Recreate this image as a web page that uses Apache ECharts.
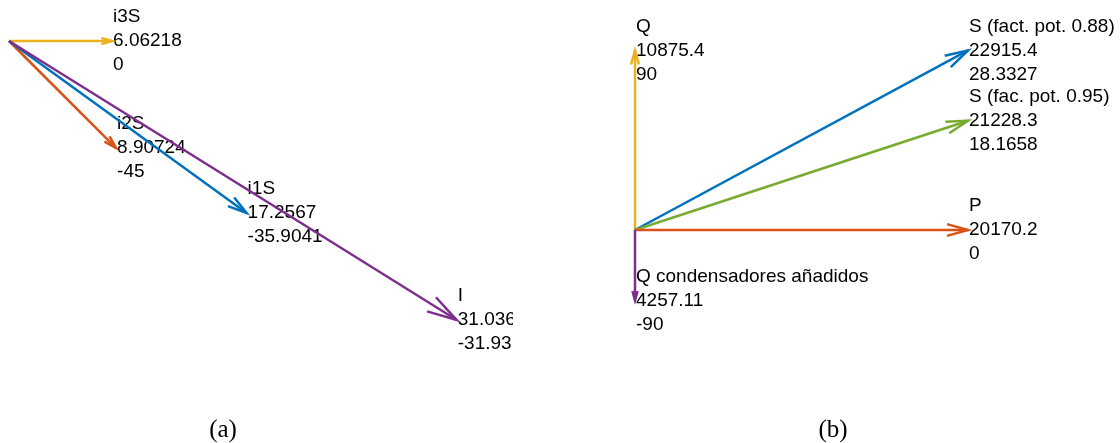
<!DOCTYPE html>
<html>
<head>
<meta charset="utf-8">
<script src="https://cdn.jsdelivr.net/npm/echarts@6/dist/echarts.min.js"></script>
<style>html,body{margin:0;padding:0;background:#fff;}#c{width:1120px;height:443px;}</style>
</head>
<body>
<div id="c"></div>
<script>
// Panel (a) phasors
const namesA = ['i3S', 'i2S', 'i1S', 'I'];
const magsA = [6.06218, 8.90724, 17.2567, 31.036];
const anglesA = [0, -45, -35.9041, -31.93];
// Panel (b) phasors
const namesB = ['Q', 'S (fact. pot. 0.88)', 'S (fac. pot. 0.95)', 'P', 'Q condensadores añadidos'];
const magsB = [10875.4, 22915.4, 21228.3, 20170.2, 4257.11];
const anglesB = [90, 28.3327, 18.1658, 0, -90];
const captions = ['(a)', '(b)'];

const C = {blue:'#0072BD', orange:'#D95319', yellow:'#EDB120', purple:'#7E2F8E', green:'#77AC30'};
const colorsA = [C.yellow, C.orange, C.blue, C.purple];
const colorsB = [C.yellow, C.blue, C.green, C.orange, C.purple];

function makeRender(names, colors) {
  return function (params, api) {
    const i = params.dataIndex;
    const angDeg = api.value(0), mag = api.value(1);
    const a = angDeg * Math.PI / 180;
    const o = api.coord([0, 0]);
    const t = api.coord([mag * Math.cos(a), mag * Math.sin(a)]);
    const dx = t[0] - o[0], dy = t[1] - o[1];
    const L = Math.hypot(dx, dy);
    const ux = dx / L, uy = dy / L;
    const h = 0.045 * L + 6, w = 0.28 * h;
    const bx = t[0] - ux * h, by = t[1] - uy * h;
    const p1 = [bx - uy * w, by + ux * w], p2 = [bx + uy * w, by - ux * w];
    const col = colors[i];
    return {
      type: 'group',
      children: [
        {type: 'text', style: {text: names[i] + '\n' + String(mag) + '\n' + String(angDeg),
          x: t[0] + 1, y: t[1], align: 'left', verticalAlign: 'middle',
          fontFamily: 'Liberation Sans, Arial, sans-serif', fontSize: 19, lineHeight: 24, fill: '#000'}},
        {type: 'line', shape: {x1: o[0], y1: o[1], x2: t[0], y2: t[1]},
          style: {stroke: col, lineWidth: 2.5}},
        {type: 'polyline', shape: {points: [p1, t, p2]},
          style: {stroke: col, lineWidth: 2.5, fill: null, lineJoin: 'miter'}}
      ]
    };
  };
}

const sA = 17.0, oAx = 9, oAy = 41, wA = 513, hA = 400;
const sB = 0.01651, oBx = 75, oBy = 230, wB = 560, hB = 400;

const chart = echarts.init(document.getElementById('c'), null, {renderer: 'canvas'});
chart.setOption({
  animation: false,
  grid: [
    {left: 0, top: 0, width: wA, height: hA, show: false},
    {left: 560, top: 0, width: wB, height: hB, show: false}
  ],
  xAxis: [
    {type: 'value', gridIndex: 0, show: false, min: -oAx / sA, max: (wA - oAx) / sA},
    {type: 'value', gridIndex: 1, show: false, min: -oBx / sB, max: (wB - oBx) / sB}
  ],
  yAxis: [
    {type: 'value', gridIndex: 0, show: false, max: oAy / sA, min: (oAy - hA) / sA},
    {type: 'value', gridIndex: 1, show: false, max: oBy / sB, min: (oBy - hB) / sB}
  ],
  series: [
    {type: 'custom', xAxisIndex: 0, yAxisIndex: 0, clip: true, silent: true,
      renderItem: makeRender(namesA, colorsA),
      data: anglesA.map((a, i) => [a, magsA[i]])},
    {type: 'custom', xAxisIndex: 1, yAxisIndex: 1, clip: false, silent: true,
      renderItem: makeRender(namesB, colorsB),
      data: anglesB.map((a, i) => [a, magsB[i]])}
  ],
  graphic: [
    {type: 'text', x: 223, y: 430, style: {text: captions[0], font: '25px "Liberation Serif", serif', fill: '#000', align: 'center', verticalAlign: 'middle'}},
    {type: 'text', x: 833, y: 430, style: {text: captions[1], font: '25px "Liberation Serif", serif', fill: '#000', align: 'center', verticalAlign: 'middle'}}
  ]
});
</script>
</body>
</html>
